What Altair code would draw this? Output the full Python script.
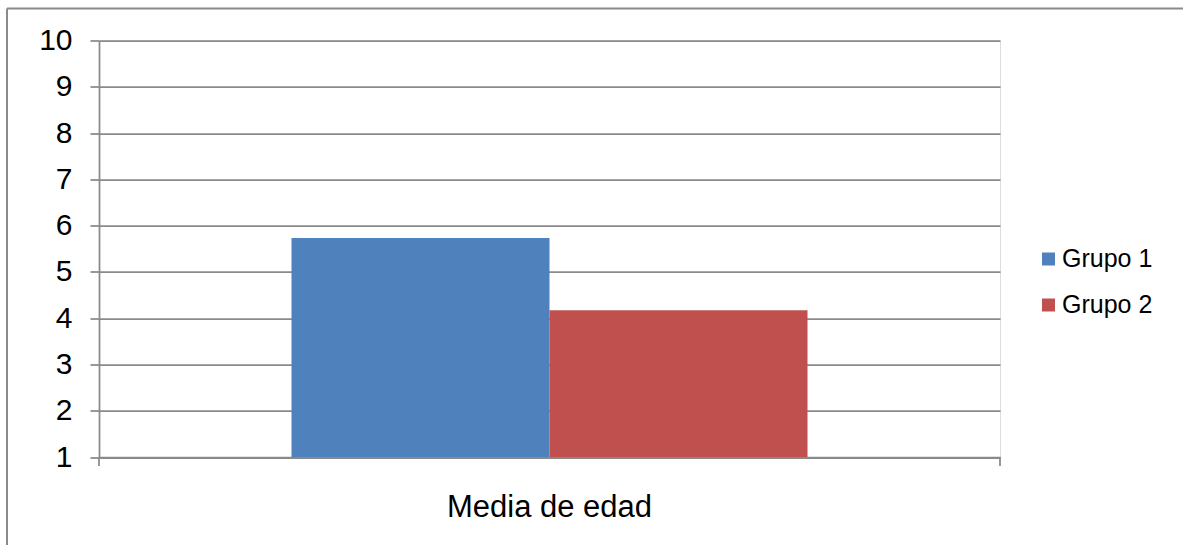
import altair as alt
import pandas as pd

category = ["Media de edad", "Media de edad"]
groups = ["Grupo 1", "Grupo 2"]
values = [5.73, 4.17]
y_ticks = [1, 2, 3, 4, 5, 6, 7, 8, 9, 10]
colors = ["#4F81BD", "#C0504D"]

df = pd.DataFrame({"cat": category, "grupo": groups, "valor": values})

W, H = 901, 416.5
PAD_L, PAD_T = 99, 40.5
GRID = "#8a8a8a"
FONT = "Liberation Sans"

bars = alt.Chart(df).mark_bar(size=258).encode(
    x=alt.X("cat:N", title=None,
            scale=alt.Scale(paddingInner=0, paddingOuter=0.373),
            axis=alt.Axis(labelAngle=0, ticks=False, tickSize=0, labelPadding=35,
                          labelLimit=0,
                          labelFontSize=31, labelFont=FONT, labelColor="#000000",
                          domainColor=GRID, domainWidth=1.75)),
    xOffset=alt.XOffset("grupo:N", scale=alt.Scale(paddingInner=0, paddingOuter=0)),
    y=alt.Y("valor:Q", title=None,
            scale=alt.Scale(domain=[1, 10], nice=False, zero=False),
            axis=alt.Axis(values=y_ticks, grid=True, gridColor=GRID, gridWidth=1.75,
                          domainColor=GRID, domainWidth=1.75, tickColor=GRID,
                          tickWidth=1.75, tickSize=9, labelPadding=18,
                          labelFontSize=30, labelFont=FONT, labelColor="#000000")),
    y2=alt.datum(1),
    color=alt.Color("grupo:N", scale=alt.Scale(domain=groups, range=colors),
                    legend=alt.Legend(title=None, orient="none", legendX=937, legendY=206,
                                      symbolType="square", symbolSize=169,
                                      symbolStrokeWidth=0, labelFontSize=25,
                                      labelFont=FONT, labelColor="#000000",
                                      labelOffset=1, rowPadding=20)),
)

one = alt.Data(values=[{"k": 1}])
edge_left = alt.Chart(one).mark_rule(color=GRID, strokeWidth=1.75).encode(
    x=alt.value(0), y=alt.value(H), y2=alt.value(H + 9))
edge_right = alt.Chart(one).mark_rule(color=GRID, strokeWidth=1.75).encode(
    x=alt.value(W), y=alt.value(H), y2=alt.value(H + 9))
frame_left = alt.Chart(one).mark_rule(color=GRID, strokeWidth=2).encode(
    x=alt.value(-92), y=alt.value(-32), y2=alt.value(600))
frame_top = alt.Chart(one).mark_rule(color=GRID, strokeWidth=2).encode(
    x=alt.value(-92), x2=alt.value(1200), y=alt.value(-32))

chart = alt.layer(bars, edge_left, edge_right, frame_left, frame_top).properties(
    width=W, height=H,
    autosize=alt.AutoSizeParams(type="none"),
    padding={"left": PAD_L, "top": PAD_T, "right": 1183 - PAD_L - W, "bottom": 545 - PAD_T - H},
).configure_view(stroke=None).configure(background="white")

chart.save("out.html", embed_options={"renderer": "svg", "actions": False})
